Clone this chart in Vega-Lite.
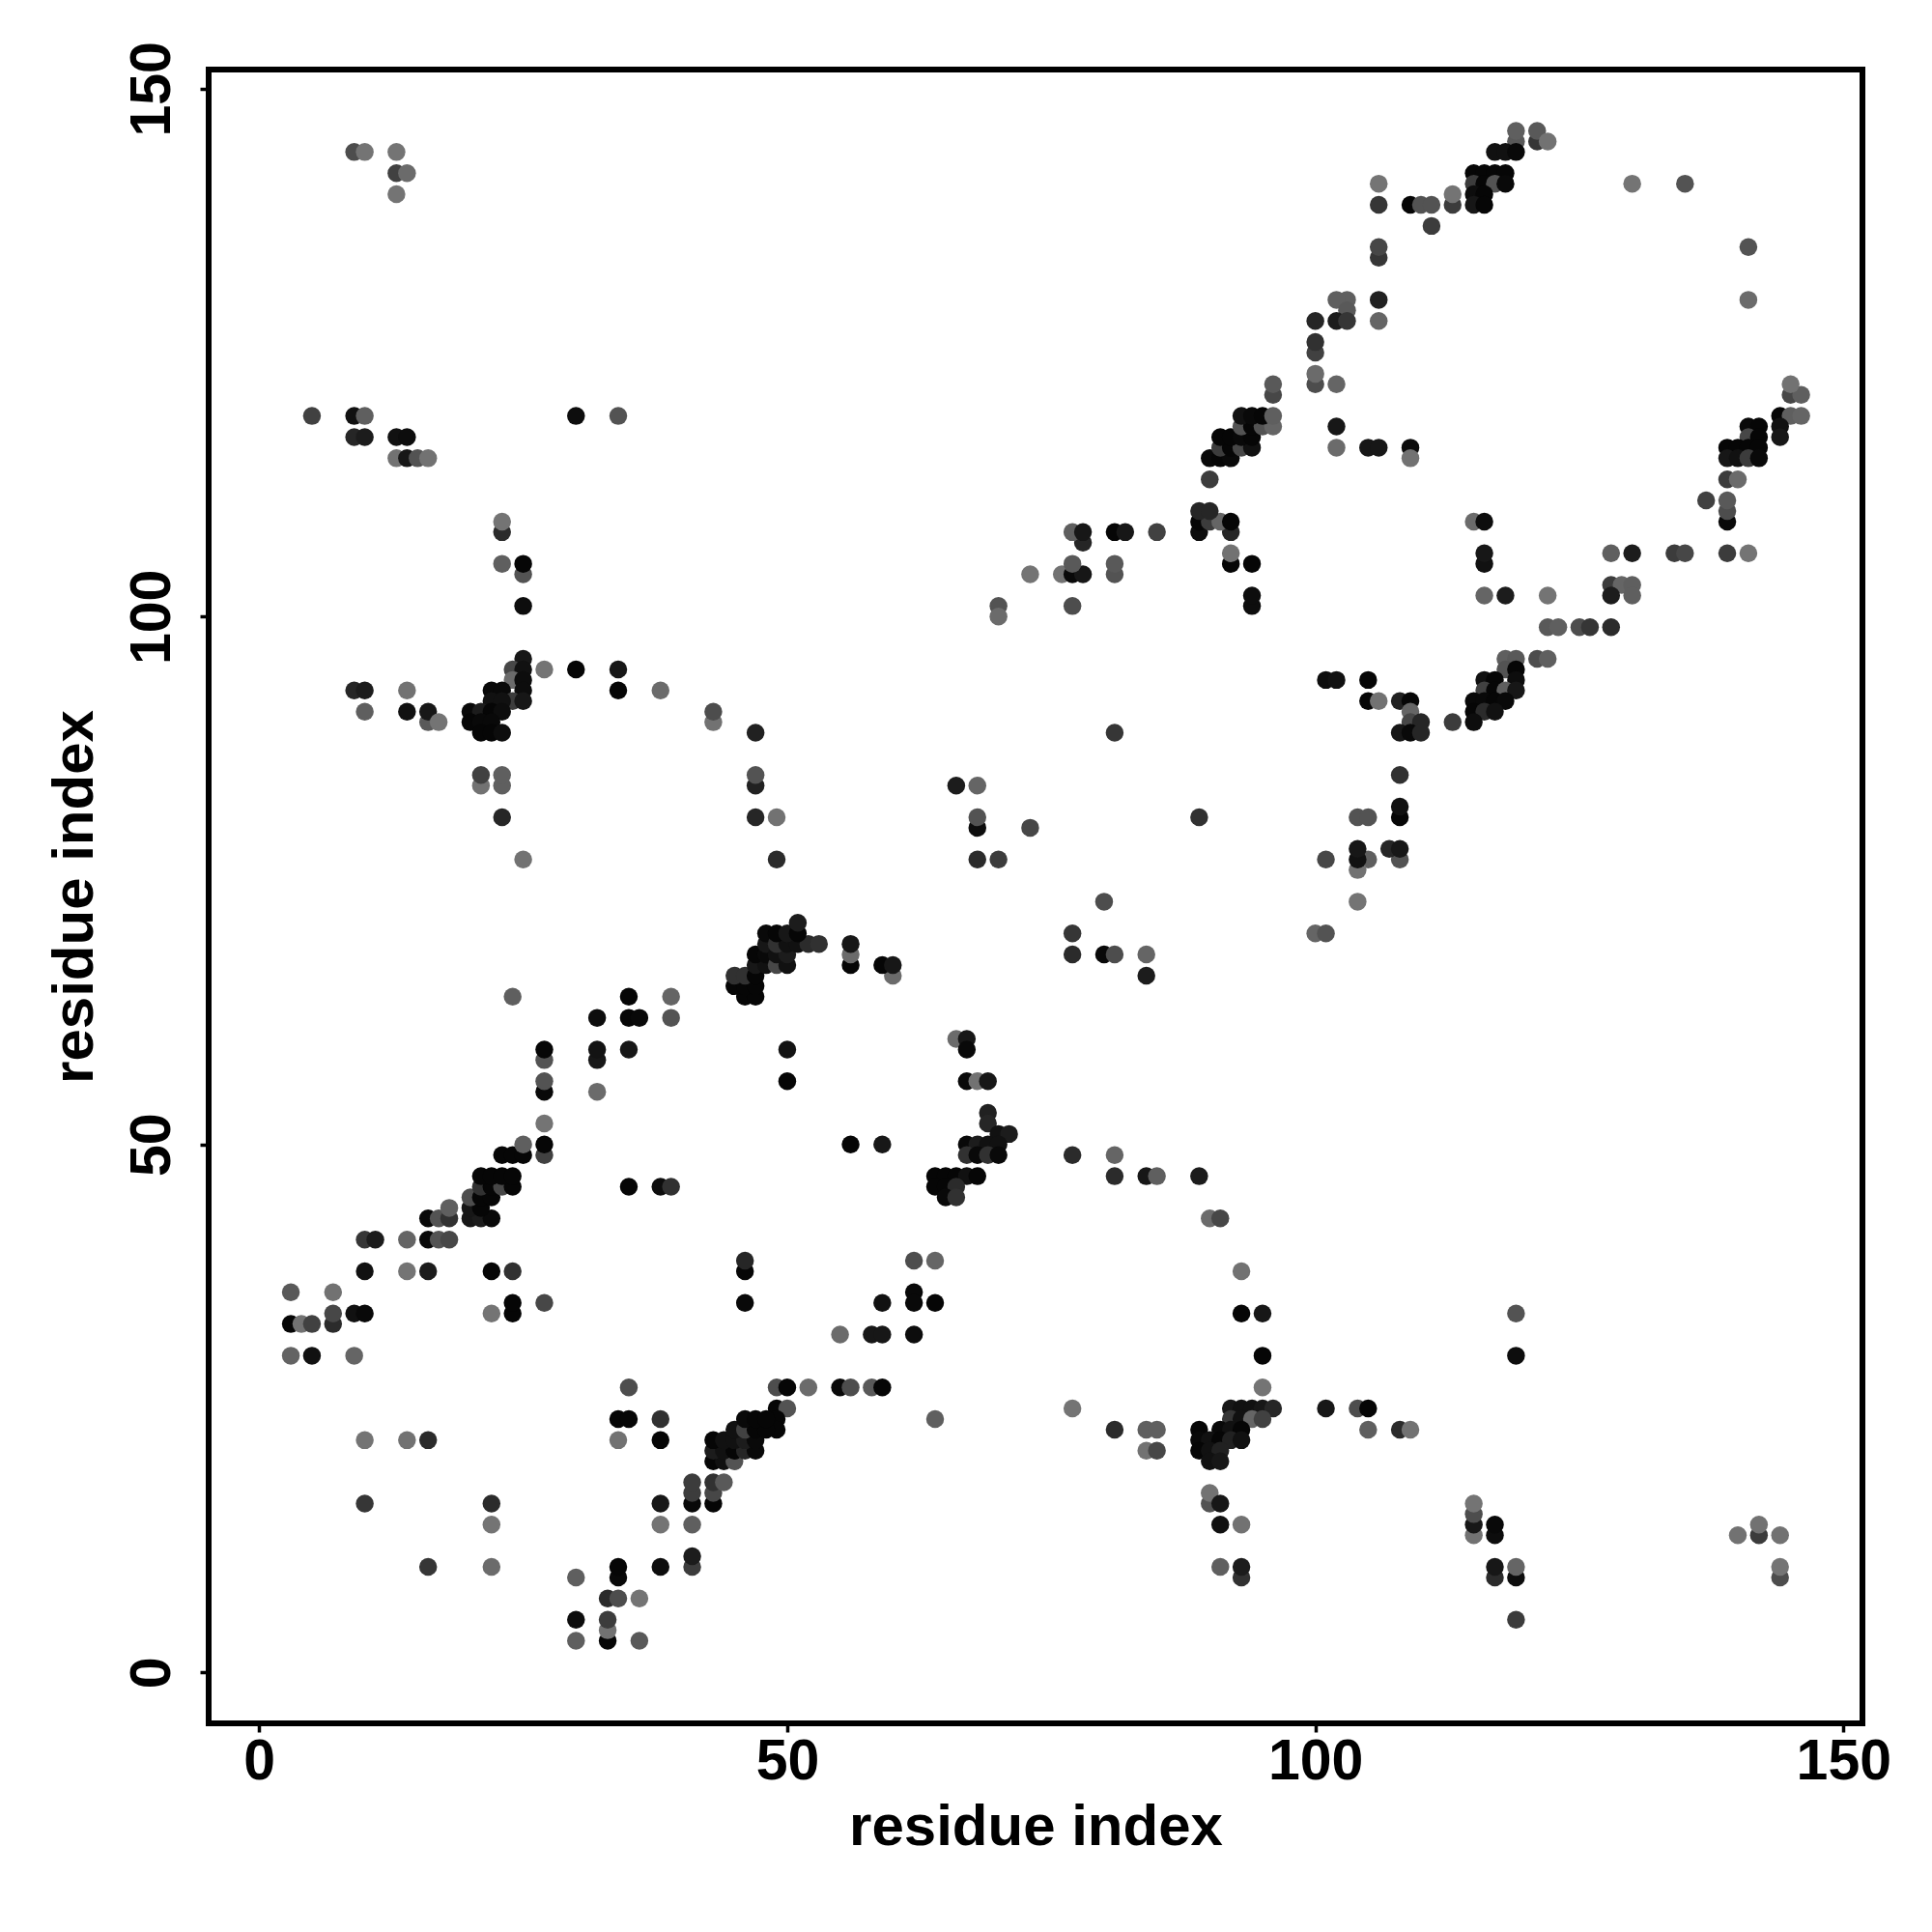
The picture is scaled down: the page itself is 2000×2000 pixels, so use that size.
{"$schema":"https://vega.github.io/schema/vega-lite/v6.json","width":1712,"height":1712,"autosize":{"type":"none"},"padding":{"left":216,"top":72,"right":72,"bottom":216},"background":"white","data":{"values":[{"x":3,"y":30,"s":0.17},{"x":5,"y":30,"s":0.9},{"x":9,"y":30,"s":0.15},{"x":3,"y":33,"s":0.97},{"x":4,"y":33,"s":0.05},{"x":5,"y":33,"s":0.45},{"x":7,"y":33,"s":0.65},{"x":7,"y":34,"s":0.4},{"x":9,"y":34,"s":0.9},{"x":10,"y":34,"s":0.95},{"x":22,"y":34,"s":0.03},{"x":24,"y":34,"s":0.97},{"x":24,"y":35,"s":0.97},{"x":27,"y":35,"s":0.4},{"x":46,"y":35,"s":0.95},{"x":3,"y":36,"s":0.25},{"x":7,"y":36,"s":0.05},{"x":10,"y":38,"s":0.9},{"x":14,"y":38,"s":0.03},{"x":16,"y":38,"s":0.8},{"x":22,"y":38,"s":0.97},{"x":24,"y":38,"s":0.6},{"x":46,"y":38,"s":0.97},{"x":46,"y":39,"s":0.7},{"x":10,"y":41,"s":0.55},{"x":11,"y":41,"s":0.8},{"x":14,"y":41,"s":0.15},{"x":16,"y":41,"s":0.95},{"x":17,"y":41,"s":0.3},{"x":18,"y":41,"s":0.4},{"x":16,"y":43,"s":0.95},{"x":17,"y":43,"s":0.3},{"x":18,"y":43,"s":0.6},{"x":20,"y":43,"s":0.85},{"x":21,"y":43,"s":0.8},{"x":22,"y":43,"s":0.95},{"x":18,"y":44,"s":0.2},{"x":20,"y":44,"s":0.85},{"x":21,"y":44,"s":0.97},{"x":20,"y":45,"s":0.35},{"x":21,"y":45,"s":0.97},{"x":22,"y":45,"s":0.97},{"x":21,"y":46,"s":0.6},{"x":22,"y":46,"s":0.97},{"x":23,"y":46,"s":0.4},{"x":24,"y":46,"s":0.97},{"x":35,"y":46,"s":0.97},{"x":38,"y":46,"s":0.93},{"x":39,"y":46,"s":0.6},{"x":21,"y":47,"s":0.97},{"x":22,"y":47,"s":0.97},{"x":23,"y":47,"s":0.97},{"x":24,"y":47,"s":0.97},{"x":23,"y":49,"s":0.97},{"x":24,"y":49,"s":0.97},{"x":25,"y":49,"s":0.97},{"x":27,"y":49,"s":0.45},{"x":25,"y":50,"s":0.2},{"x":27,"y":50,"s":0.97},{"x":27,"y":52,"s":0.03},{"x":27,"y":55,"s":0.95},{"x":32,"y":55,"s":0.1},{"x":27,"y":56,"s":0.3},{"x":27,"y":58,"s":0.3},{"x":32,"y":58,"s":0.85},{"x":27,"y":59,"s":0.97},{"x":32,"y":59,"s":0.88},{"x":35,"y":59,"s":0.85},{"x":32,"y":62,"s":0.93},{"x":35,"y":62,"s":0.97},{"x":36,"y":62,"s":0.95},{"x":39,"y":62,"s":0.3},{"x":24,"y":64,"s":0.2},{"x":35,"y":64,"s":0.97},{"x":39,"y":64,"s":0.15},{"x":46,"y":64,"s":0.97},{"x":47,"y":64,"s":0.97},{"x":45,"y":65,"s":0.97},{"x":46,"y":65,"s":0.97},{"x":47,"y":65,"s":0.97},{"x":45,"y":66,"s":0.6},{"x":46,"y":66,"s":0.6},{"x":47,"y":66,"s":0.97},{"x":47,"y":67,"s":0.85},{"x":48,"y":67,"s":0.9},{"x":47,"y":68,"s":0.97},{"x":48,"y":68,"s":0.95},{"x":48,"y":69,"s":0.85},{"x":48,"y":70,"s":0.95},{"x":49,"y":67,"s":0.4},{"x":50,"y":67,"s":0.9},{"x":49,"y":68,"s":0.9},{"x":50,"y":68,"s":0.8},{"x":49,"y":69,"s":0.6},{"x":50,"y":69,"s":0.9},{"x":51,"y":69,"s":0.9},{"x":52,"y":69,"s":0.65},{"x":53,"y":69,"s":0.6},{"x":49,"y":70,"s":0.97},{"x":50,"y":70,"s":0.85},{"x":51,"y":70,"s":0.97},{"x":51,"y":71,"s":0.8},{"x":56,"y":67,"s":0.97},{"x":56,"y":68,"s":0.1},{"x":56,"y":69,"s":0.85},{"x":60,"y":66,"s":0.1},{"x":59,"y":67,"s":0.97},{"x":60,"y":67,"s":0.85},{"x":50,"y":59,"s":0.88},{"x":50,"y":56,"s":0.97},{"x":66,"y":60,"s":0.1},{"x":67,"y":60,"s":0.85},{"x":67,"y":59,"s":0.95},{"x":67,"y":56,"s":0.95},{"x":68,"y":56,"s":0.05},{"x":69,"y":56,"s":0.85},{"x":69,"y":53,"s":0.75},{"x":69,"y":52,"s":0.7},{"x":70,"y":51,"s":0.9},{"x":71,"y":51,"s":0.8},{"x":56,"y":50,"s":0.97},{"x":59,"y":50,"s":0.85},{"x":67,"y":50,"s":0.95},{"x":68,"y":50,"s":0.8},{"x":69,"y":50,"s":0.9},{"x":70,"y":50,"s":0.9},{"x":67,"y":49,"s":0.6},{"x":68,"y":49,"s":0.95},{"x":69,"y":49,"s":0.6},{"x":70,"y":49,"s":0.95},{"x":77,"y":49,"s":0.65},{"x":81,"y":49,"s":0.15},{"x":64,"y":47,"s":0.97},{"x":65,"y":47,"s":0.97},{"x":66,"y":47,"s":0.97},{"x":67,"y":47,"s":0.9},{"x":68,"y":47,"s":0.97},{"x":81,"y":47,"s":0.65},{"x":84,"y":47,"s":0.85},{"x":85,"y":47,"s":0.2},{"x":89,"y":47,"s":0.8},{"x":64,"y":46,"s":0.97},{"x":65,"y":46,"s":0.97},{"x":66,"y":46,"s":0.65},{"x":65,"y":45,"s":0.95},{"x":66,"y":45,"s":0.6},{"x":90,"y":43,"s":0.1},{"x":91,"y":43,"s":0.4},{"x":62,"y":39,"s":0.35},{"x":64,"y":39,"s":0.15},{"x":93,"y":38,"s":0.05},{"x":62,"y":36,"s":0.95},{"x":62,"y":35,"s":0.95},{"x":59,"y":35,"s":0.9},{"x":64,"y":35,"s":0.97},{"x":93,"y":34,"s":0.97},{"x":95,"y":34,"s":0.85},{"x":55,"y":32,"s":0.1},{"x":58,"y":32,"s":0.85},{"x":59,"y":32,"s":0.85},{"x":62,"y":32,"s":0.93},{"x":95,"y":30,"s":0.97},{"x":49,"y":27,"s":0.35},{"x":50,"y":27,"s":0.97},{"x":52,"y":27,"s":0.1},{"x":55,"y":27,"s":0.95},{"x":56,"y":27,"s":0.35},{"x":58,"y":27,"s":0.25},{"x":59,"y":27,"s":0.97},{"x":95,"y":27,"s":0.03},{"x":49,"y":25,"s":0.97},{"x":50,"y":25,"s":0.3},{"x":77,"y":25,"s":0.03},{"x":64,"y":24,"s":0.2},{"x":49,"y":24,"s":0.97},{"x":49,"y":23,"s":0.97},{"x":81,"y":23,"s":0.65},{"x":84,"y":23,"s":0.2},{"x":85,"y":23,"s":0.2},{"x":84,"y":21,"s":0.05},{"x":85,"y":21,"s":0.4},{"x":92,"y":25,"s":0.85},{"x":93,"y":25,"s":0.9},{"x":94,"y":25,"s":0.9},{"x":95,"y":25,"s":0.85},{"x":96,"y":25,"s":0.7},{"x":101,"y":25,"s":0.85},{"x":92,"y":24,"s":0.55},{"x":93,"y":24,"s":0.9},{"x":94,"y":24,"s":0.15},{"x":95,"y":24,"s":0.45},{"x":89,"y":23,"s":0.97},{"x":91,"y":23,"s":0.95},{"x":92,"y":23,"s":0.9},{"x":93,"y":23,"s":0.97},{"x":89,"y":22,"s":0.95},{"x":90,"y":22,"s":0.9},{"x":91,"y":22,"s":0.97},{"x":92,"y":22,"s":0.75},{"x":93,"y":22,"s":0.9},{"x":89,"y":21,"s":0.97},{"x":90,"y":21,"s":0.9},{"x":91,"y":21,"s":0.75},{"x":90,"y":20,"s":0.9},{"x":91,"y":20,"s":0.85},{"x":90,"y":16,"s":0.3},{"x":90,"y":17,"s":0.05},{"x":91,"y":16,"s":0.85},{"x":91,"y":14,"s":0.9},{"x":93,"y":14,"s":0.05},{"x":91,"y":10,"s":0.2},{"x":93,"y":9,"s":0.6},{"x":93,"y":10,"s":0.8},{"x":119,"y":34,"s":0.3},{"x":119,"y":30,"s":0.93},{"x":104,"y":25,"s":0.35},{"x":105,"y":25,"s":0.97},{"x":105,"y":23,"s":0.2},{"x":108,"y":23,"s":0.65},{"x":109,"y":23,"s":0.05},{"x":115,"y":13,"s":0.05},{"x":115,"y":14,"s":0.85},{"x":115,"y":15,"s":0.35},{"x":115,"y":16,"s":0.03},{"x":117,"y":13,"s":0.93},{"x":117,"y":14,"s":0.95},{"x":142,"y":13,"s":0.5},{"x":140,"y":13,"s":0.05},{"x":144,"y":13,"s":0.05},{"x":142,"y":14,"s":0.05},{"x":117,"y":9,"s":0.65},{"x":117,"y":10,"s":0.85},{"x":119,"y":9,"s":0.93},{"x":119,"y":10,"s":0.15},{"x":144,"y":9,"s":0.35},{"x":144,"y":10,"s":0.03},{"x":119,"y":5,"s":0.5},{"x":33,"y":3,"s":0.97},{"x":30,"y":3,"s":0.2},{"x":36,"y":3,"s":0.25},{"x":33,"y":4,"s":0.05},{"x":30,"y":5,"s":0.93},{"x":33,"y":5,"s":0.5},{"x":33,"y":7,"s":0.65},{"x":34,"y":7,"s":0.35},{"x":36,"y":7,"s":0.03},{"x":30,"y":9,"s":0.2},{"x":34,"y":9,"s":0.95},{"x":34,"y":10,"s":0.97},{"x":38,"y":10,"s":0.93},{"x":41,"y":10,"s":0.5},{"x":41,"y":11,"s":0.8},{"x":16,"y":10,"s":0.55},{"x":22,"y":10,"s":0.1},{"x":22,"y":14,"s":0.03},{"x":38,"y":14,"s":0.03},{"x":41,"y":14,"s":0.2},{"x":10,"y":16,"s":0.55},{"x":22,"y":16,"s":0.65},{"x":38,"y":16,"s":0.85},{"x":41,"y":16,"s":0.95},{"x":43,"y":16,"s":0.97},{"x":41,"y":17,"s":0.5},{"x":43,"y":17,"s":0.4},{"x":41,"y":18,"s":0.5},{"x":43,"y":18,"s":0.6},{"x":44,"y":18,"s":0.25},{"x":43,"y":20,"s":0.97},{"x":44,"y":20,"s":0.9},{"x":45,"y":20,"s":0.3},{"x":43,"y":21,"s":0.8},{"x":44,"y":21,"s":0.9},{"x":45,"y":21,"s":0.97},{"x":46,"y":21,"s":0.7},{"x":47,"y":21,"s":0.95},{"x":10,"y":22,"s":0.03},{"x":14,"y":22,"s":0.05},{"x":16,"y":22,"s":0.65},{"x":34,"y":22,"s":0.05},{"x":38,"y":22,"s":0.97},{"x":43,"y":22,"s":0.97},{"x":44,"y":22,"s":0.9},{"x":45,"y":22,"s":0.9},{"x":46,"y":22,"s":0.8},{"x":47,"y":22,"s":0.95},{"x":45,"y":23,"s":0.9},{"x":46,"y":23,"s":0.45},{"x":47,"y":23,"s":0.97},{"x":48,"y":23,"s":0.97},{"x":34,"y":24,"s":0.97},{"x":35,"y":24,"s":0.97},{"x":38,"y":24,"s":0.6},{"x":46,"y":24,"s":0.95},{"x":47,"y":24,"s":0.97},{"x":48,"y":24,"s":0.97},{"x":35,"y":27,"s":0.35},{"x":25,"y":96,"s":0.85},{"x":24,"y":95,"s":0.4},{"x":25,"y":95,"s":0.9},{"x":27,"y":95,"s":0.03},{"x":30,"y":95,"s":0.97},{"x":34,"y":95,"s":0.85},{"x":24,"y":94,"s":0.1},{"x":25,"y":94,"s":0.93},{"x":9,"y":93,"s":0.7},{"x":10,"y":93,"s":0.8},{"x":14,"y":93,"s":0.05},{"x":22,"y":93,"s":0.95},{"x":23,"y":93,"s":0.95},{"x":25,"y":93,"s":0.93},{"x":34,"y":93,"s":0.97},{"x":38,"y":93,"s":0.1},{"x":24,"y":92,"s":0.5},{"x":22,"y":92,"s":0.9},{"x":23,"y":92,"s":0.9},{"x":25,"y":92,"s":0.85},{"x":10,"y":91,"s":0.2},{"x":14,"y":91,"s":0.9},{"x":16,"y":90,"s":0.25},{"x":16,"y":91,"s":0.85},{"x":17,"y":90,"s":0.03},{"x":20,"y":91,"s":0.95},{"x":21,"y":91,"s":0.8},{"x":22,"y":91,"s":0.97},{"x":23,"y":91,"s":0.93},{"x":43,"y":90,"s":0.05},{"x":43,"y":91,"s":0.35},{"x":20,"y":90,"s":0.97},{"x":21,"y":90,"s":0.95},{"x":22,"y":90,"s":0.95},{"x":21,"y":89,"s":0.97},{"x":22,"y":89,"s":0.97},{"x":23,"y":89,"s":0.93},{"x":47,"y":89,"s":0.75},{"x":21,"y":84,"s":0.05},{"x":23,"y":84,"s":0.2},{"x":47,"y":84,"s":0.75},{"x":21,"y":85,"s":0.45},{"x":23,"y":85,"s":0.2},{"x":47,"y":85,"s":0.3},{"x":23,"y":81,"s":0.7},{"x":47,"y":81,"s":0.7},{"x":49,"y":81,"s":0.05},{"x":25,"y":77,"s":0.05},{"x":49,"y":77,"s":0.65},{"x":81,"y":89,"s":0.55},{"x":66,"y":84,"s":0.8},{"x":68,"y":84,"s":0.15},{"x":68,"y":80,"s":0.93},{"x":68,"y":81,"s":0.3},{"x":89,"y":81,"s":0.6},{"x":73,"y":80,"s":0.4},{"x":68,"y":77,"s":0.65},{"x":70,"y":77,"s":0.5},{"x":80,"y":73,"s":0.35},{"x":77,"y":70,"s":0.55},{"x":100,"y":70,"s":0.15},{"x":101,"y":70,"s":0.3},{"x":77,"y":68,"s":0.65},{"x":80,"y":68,"s":0.95},{"x":81,"y":68,"s":0.35},{"x":84,"y":68,"s":0.15},{"x":84,"y":66,"s":0.8},{"x":122,"y":99,"s":0.25},{"x":123,"y":99,"s":0.2},{"x":125,"y":99,"s":0.35},{"x":126,"y":99,"s":0.55},{"x":128,"y":99,"s":0.65},{"x":118,"y":96,"s":0.2},{"x":119,"y":96,"s":0.25},{"x":121,"y":96,"s":0.35},{"x":122,"y":96,"s":0.2},{"x":118,"y":95,"s":0.3},{"x":119,"y":95,"s":0.97},{"x":101,"y":94,"s":0.93},{"x":102,"y":94,"s":0.9},{"x":105,"y":94,"s":0.97},{"x":116,"y":94,"s":0.9},{"x":117,"y":94,"s":0.97},{"x":119,"y":94,"s":0.93},{"x":116,"y":93,"s":0.45},{"x":117,"y":93,"s":0.97},{"x":118,"y":93,"s":0.2},{"x":119,"y":93,"s":0.85},{"x":105,"y":92,"s":0.97},{"x":106,"y":92,"s":0.05},{"x":108,"y":92,"s":0.75},{"x":109,"y":92,"s":0.97},{"x":115,"y":92,"s":0.95},{"x":116,"y":92,"s":0.95},{"x":117,"y":92,"s":0.97},{"x":118,"y":92,"s":0.95},{"x":109,"y":91,"s":0.15},{"x":115,"y":91,"s":0.97},{"x":116,"y":91,"s":0.65},{"x":117,"y":91,"s":0.9},{"x":109,"y":90,"s":0.4},{"x":110,"y":90,"s":0.7},{"x":113,"y":90,"s":0.5},{"x":115,"y":90,"s":0.93},{"x":108,"y":89,"s":0.85},{"x":109,"y":89,"s":0.95},{"x":110,"y":89,"s":0.7},{"x":108,"y":85,"s":0.6},{"x":108,"y":81,"s":0.97},{"x":108,"y":82,"s":0.9},{"x":104,"y":81,"s":0.3},{"x":105,"y":81,"s":0.3},{"x":105,"y":77,"s":0.2},{"x":108,"y":77,"s":0.3},{"x":104,"y":76,"s":0.05},{"x":104,"y":77,"s":0.9},{"x":104,"y":78,"s":0.85},{"x":107,"y":78,"s":0.7},{"x":108,"y":78,"s":0.85},{"x":101,"y":77,"s":0.4},{"x":104,"y":73,"s":0.03},{"x":9,"y":144,"s":0.35},{"x":10,"y":144,"s":0.03},{"x":13,"y":144,"s":0.03},{"x":13,"y":142,"s":0.45},{"x":14,"y":142,"s":0.1},{"x":13,"y":140,"s":0.03},{"x":5,"y":119,"s":0.45},{"x":9,"y":119,"s":0.9},{"x":10,"y":119,"s":0.2},{"x":30,"y":119,"s":0.93},{"x":34,"y":119,"s":0.3},{"x":9,"y":117,"s":0.7},{"x":10,"y":117,"s":0.8},{"x":13,"y":117,"s":0.9},{"x":14,"y":117,"s":0.93},{"x":13,"y":115,"s":0.05},{"x":14,"y":115,"s":0.85},{"x":15,"y":115,"s":0.3},{"x":16,"y":115,"s":0.05},{"x":23,"y":108,"s":0.65},{"x":23,"y":109,"s":0.03},{"x":23,"y":105,"s":0.2},{"x":25,"y":104,"s":0.3},{"x":25,"y":105,"s":0.97},{"x":25,"y":101,"s":0.93},{"x":70,"y":101,"s":0.3},{"x":70,"y":100,"s":0.1},{"x":77,"y":101,"s":0.35},{"x":94,"y":101,"s":0.93},{"x":94,"y":102,"s":0.93},{"x":73,"y":104,"s":0.03},{"x":76,"y":104,"s":0.05},{"x":77,"y":104,"s":0.95},{"x":78,"y":104,"s":0.85},{"x":81,"y":104,"s":0.3},{"x":77,"y":105,"s":0.25},{"x":81,"y":105,"s":0.25},{"x":92,"y":105,"s":0.97},{"x":94,"y":105,"s":0.97},{"x":92,"y":106,"s":0.05},{"x":78,"y":107,"s":0.7},{"x":77,"y":108,"s":0.2},{"x":78,"y":108,"s":0.85},{"x":81,"y":108,"s":0.97},{"x":82,"y":108,"s":0.85},{"x":85,"y":108,"s":0.45},{"x":89,"y":108,"s":0.93},{"x":92,"y":108,"s":0.7},{"x":89,"y":109,"s":0.97},{"x":90,"y":109,"s":0.5},{"x":91,"y":109,"s":0.15},{"x":92,"y":109,"s":0.97},{"x":89,"y":110,"s":0.7},{"x":90,"y":110,"s":0.7},{"x":90,"y":113,"s":0.5},{"x":90,"y":115,"s":0.95},{"x":91,"y":115,"s":0.97},{"x":92,"y":115,"s":0.95},{"x":91,"y":116,"s":0.5},{"x":92,"y":116,"s":0.97},{"x":93,"y":116,"s":0.4},{"x":94,"y":116,"s":0.9},{"x":91,"y":117,"s":0.97},{"x":92,"y":117,"s":0.97},{"x":93,"y":117,"s":0.95},{"x":94,"y":117,"s":0.97},{"x":93,"y":118,"s":0.3},{"x":94,"y":118,"s":0.97},{"x":95,"y":118,"s":0.3},{"x":96,"y":118,"s":0.15},{"x":93,"y":119,"s":0.9},{"x":94,"y":119,"s":0.95},{"x":95,"y":119,"s":0.97},{"x":96,"y":119,"s":0.2},{"x":96,"y":121,"s":0.4},{"x":96,"y":122,"s":0.25},{"x":100,"y":122,"s":0.35},{"x":100,"y":123,"s":0.1},{"x":100,"y":125,"s":0.45},{"x":100,"y":126,"s":0.6},{"x":100,"y":128,"s":0.7},{"x":103,"y":130,"s":0.2},{"x":121,"y":145,"s":0.55},{"x":121,"y":146,"s":0.25},{"x":119,"y":145,"s":0.25},{"x":119,"y":146,"s":0.2},{"x":122,"y":145,"s":0.05},{"x":117,"y":144,"s":0.9},{"x":118,"y":144,"s":0.9},{"x":119,"y":144,"s":0.95},{"x":115,"y":142,"s":0.97},{"x":116,"y":142,"s":0.97},{"x":117,"y":142,"s":0.97},{"x":118,"y":142,"s":0.97},{"x":106,"y":141,"s":0.03},{"x":115,"y":141,"s":0.5},{"x":116,"y":141,"s":0.97},{"x":117,"y":141,"s":0.3},{"x":118,"y":141,"s":0.95},{"x":130,"y":141,"s":0.03},{"x":135,"y":141,"s":0.3},{"x":113,"y":139,"s":0.5},{"x":113,"y":140,"s":0.03},{"x":115,"y":140,"s":0.93},{"x":116,"y":140,"s":0.97},{"x":106,"y":139,"s":0.55},{"x":109,"y":139,"s":0.97},{"x":110,"y":139,"s":0.3},{"x":111,"y":139,"s":0.3},{"x":115,"y":139,"s":0.85},{"x":116,"y":139,"s":0.97},{"x":111,"y":137,"s":0.5},{"x":106,"y":134,"s":0.55},{"x":106,"y":135,"s":0.4},{"x":141,"y":135,"s":0.3},{"x":102,"y":130,"s":0.2},{"x":106,"y":130,"s":0.75},{"x":141,"y":130,"s":0.1},{"x":103,"y":129,"s":0.25},{"x":102,"y":128,"s":0.8},{"x":103,"y":128,"s":0.55},{"x":106,"y":128,"s":0.15},{"x":102,"y":122,"s":0.15},{"x":145,"y":121,"s":0.4},{"x":146,"y":121,"s":0.2},{"x":145,"y":122,"s":0.05},{"x":144,"y":119,"s":0.97},{"x":145,"y":119,"s":0.2},{"x":146,"y":119,"s":0.15},{"x":102,"y":118,"s":0.85},{"x":141,"y":118,"s":0.95},{"x":142,"y":118,"s":0.97},{"x":144,"y":118,"s":0.9},{"x":141,"y":117,"s":0.4},{"x":142,"y":117,"s":0.97},{"x":144,"y":117,"s":0.85},{"x":102,"y":116,"s":0.1},{"x":105,"y":116,"s":0.85},{"x":106,"y":116,"s":0.85},{"x":109,"y":116,"s":0.93},{"x":139,"y":116,"s":0.97},{"x":140,"y":116,"s":0.97},{"x":141,"y":116,"s":0.97},{"x":142,"y":116,"s":0.97},{"x":109,"y":115,"s":0.05},{"x":139,"y":115,"s":0.85},{"x":140,"y":115,"s":0.9},{"x":141,"y":115,"s":0.5},{"x":142,"y":115,"s":0.95},{"x":139,"y":113,"s":0.5},{"x":140,"y":113,"s":0.1},{"x":137,"y":111,"s":0.45},{"x":139,"y":109,"s":0.95},{"x":139,"y":110,"s":0.35},{"x":139,"y":111,"s":0.25},{"x":115,"y":109,"s":0.1},{"x":116,"y":109,"s":0.93},{"x":116,"y":105,"s":0.9},{"x":116,"y":106,"s":0.85},{"x":128,"y":106,"s":0.2},{"x":130,"y":106,"s":0.8},{"x":134,"y":106,"s":0.5},{"x":135,"y":106,"s":0.4},{"x":139,"y":106,"s":0.5},{"x":141,"y":106,"s":0.03},{"x":128,"y":103,"s":0.5},{"x":129,"y":103,"s":0.15},{"x":130,"y":103,"s":0.2},{"x":116,"y":102,"s":0.15},{"x":118,"y":102,"s":0.8},{"x":122,"y":102,"s":0.03},{"x":128,"y":102,"s":0.8},{"x":130,"y":102,"s":0.2}]},"mark":{"type":"circle","size":342,"opacity":1},"encoding":{"x":{"field":"x","type":"quantitative","scale":{"domain":[-4.78,151.8],"nice":false,"zero":false},"axis":{"values":[0,50,100,150],"grid":false,"title":"residue index","titleFont":"Liberation Sans","titleFontWeight":"bold","titleFontSize":60,"titleColor":"black","titlePadding":9,"labelFont":"Liberation Sans","labelFontWeight":"bold","labelFontSize":59,"labelColor":"black","labelPadding":1,"labelOverlap":false,"labelFlush":false,"tickColor":"black","tickSize":9,"tickWidth":3.5,"domain":false}},"y":{"field":"y","type":"quantitative","scale":{"domain":[-4.82,151.81],"nice":false,"zero":false},"axis":{"values":[0,50,100,150],"grid":false,"title":"residue index","titleFont":"Liberation Sans","titleFontWeight":"bold","titleFontSize":60,"titleColor":"black","titlePadding":20,"labelFont":"Liberation Sans","labelFontWeight":"bold","labelFontSize":59,"labelColor":"black","labelAngle":-90,"labelAlign":"center","labelBaseline":"bottom","labelPadding":20,"labelOverlap":false,"tickColor":"black","tickSize":9,"tickWidth":3.5,"domain":false}},"color":{"field":"s","type":"quantitative","legend":null,"scale":{"domain":[0,1],"range":["#787878","#000000"]}}},"config":{"view":{"stroke":"black","strokeWidth":6}}}
